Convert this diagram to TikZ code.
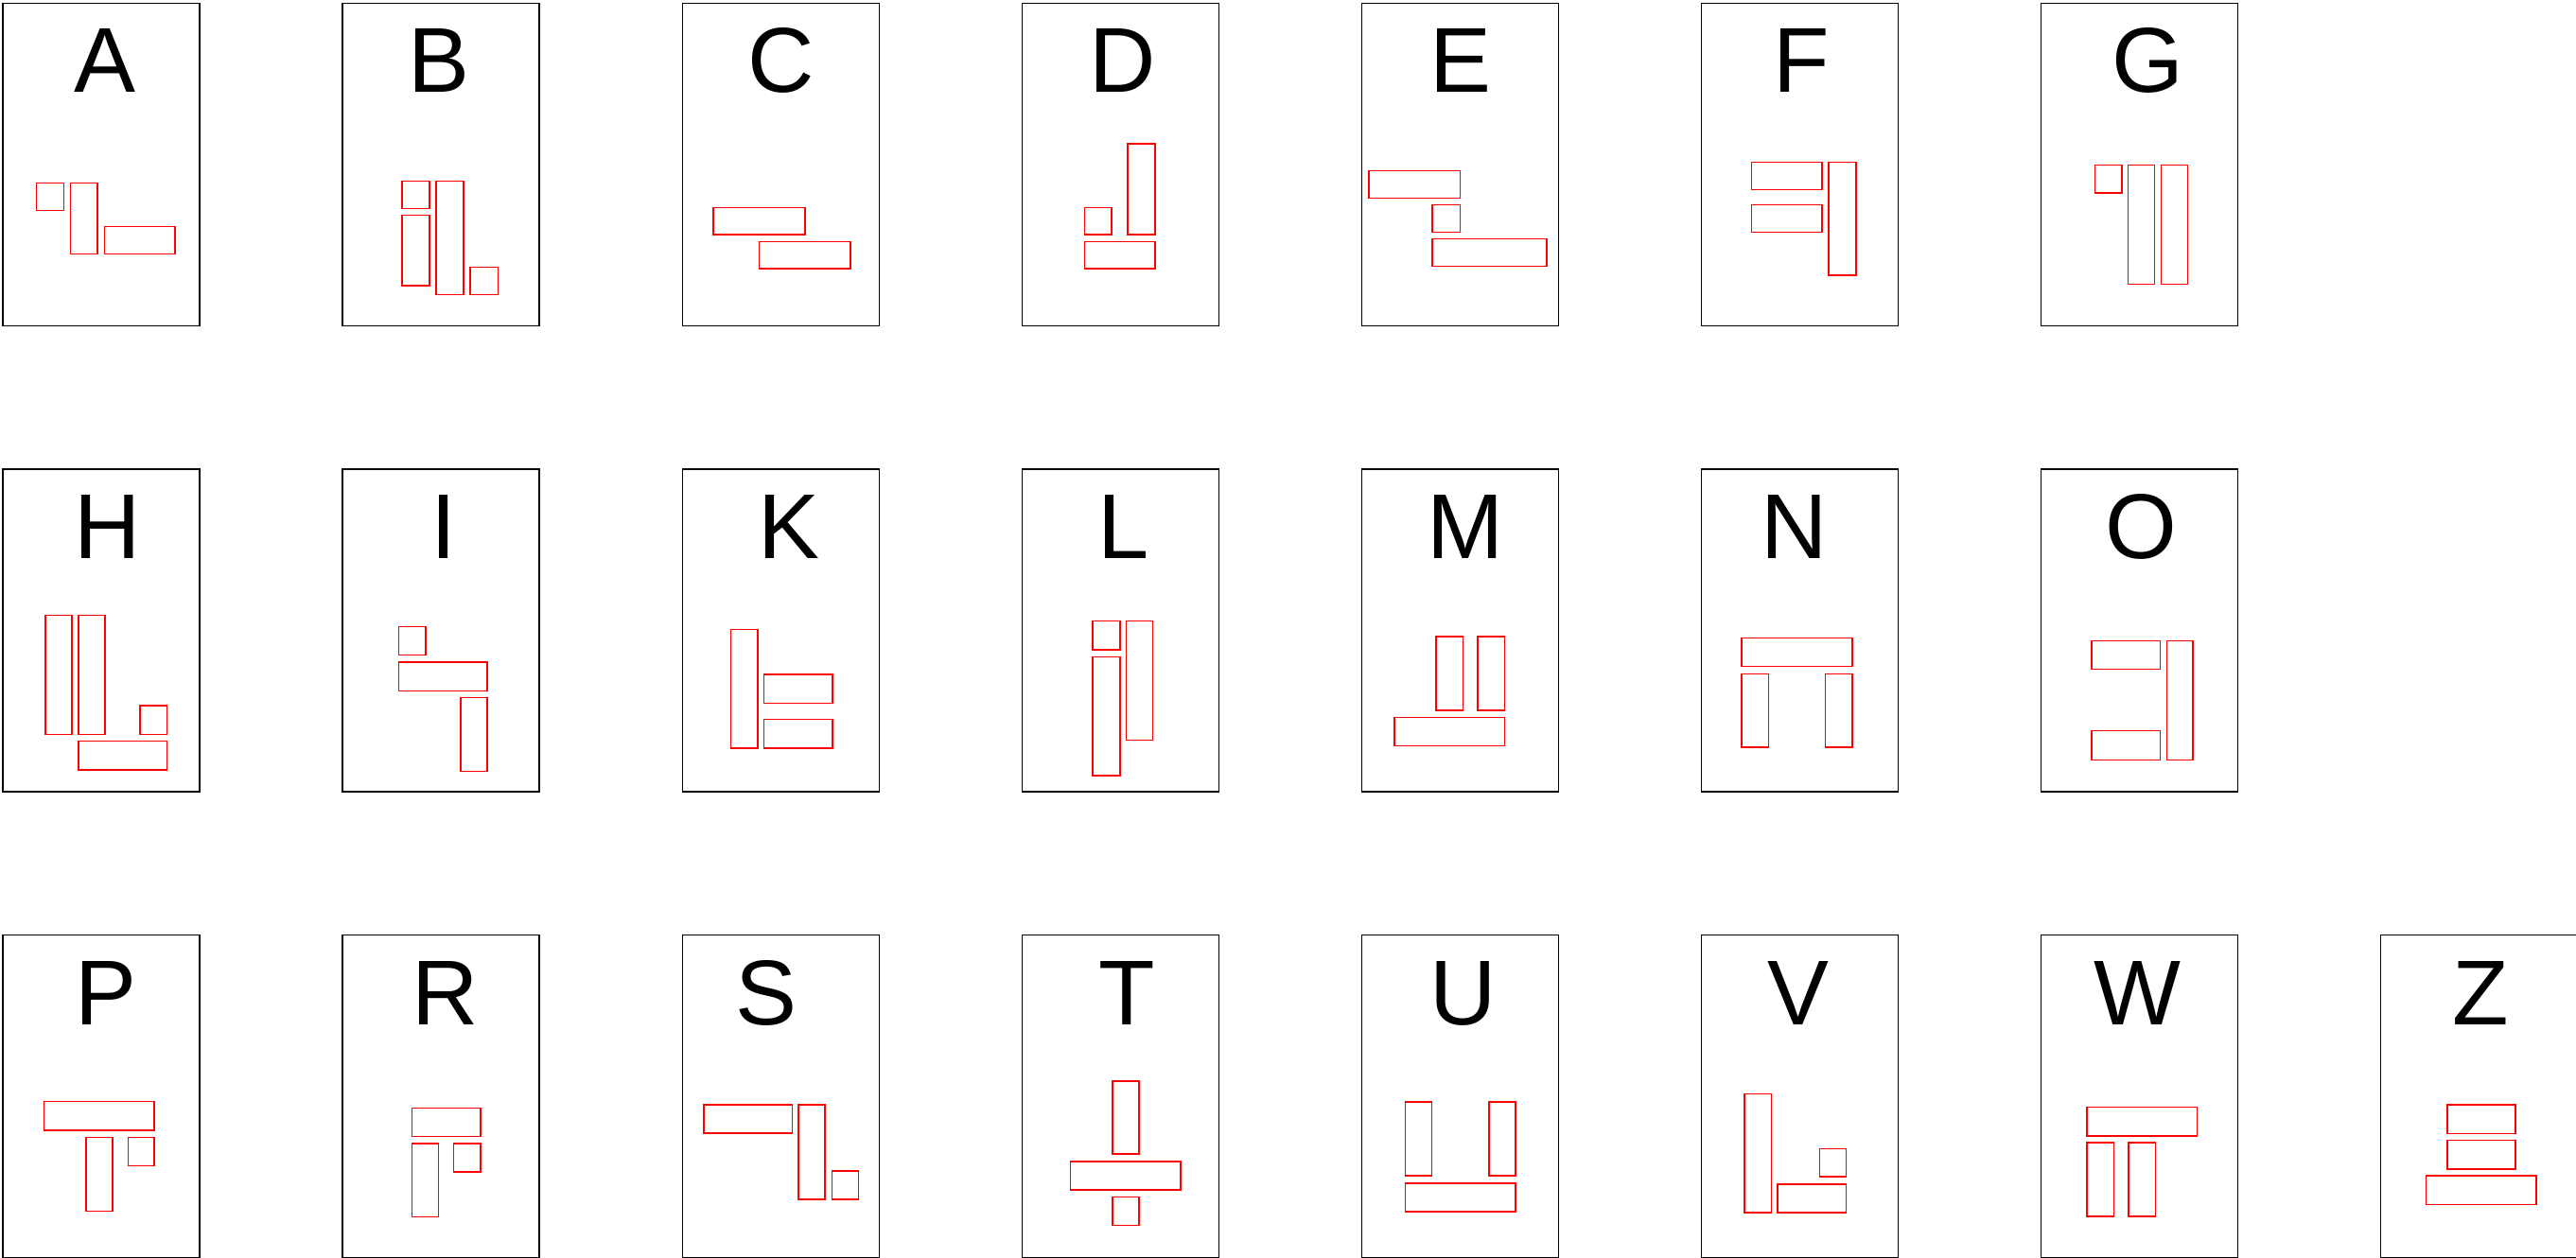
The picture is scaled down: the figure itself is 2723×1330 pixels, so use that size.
\documentclass[tikz,border=0pt]{standalone}
\usepackage{fontspec}
\setmainfont{Liberation Sans}
\tikzset{
  lcard/.style  ={draw=black, line width=0.4pt},
  lblock/.style ={draw=red, line width=0.45pt},
  lletter/.style={font=\fontsize{27.7}{30}\selectfont, anchor=base,
                  inner sep=0pt, text=black},
}
% #1,#2 top left corner, #3 letter centre, #4 letter, #5 blocks x0/y0/x1/y1
\newcommand{\lcardset}[5]{%
  \begin{scope}[shift={(#1,#2)}]
    \draw[lcard] (0,0) rectangle (208,341);
    \node[lletter] (card#4) at (#3,94.5) {#4};
    \foreach \xa/\ya/\xb/\yb in {#5}
      \draw[lblock] (\xa,\ya) rectangle (\xb,\yb);
  \end{scope}}

\begin{document}
\begin{tikzpicture}[x=0.01cm, y=-0.01cm]
  \useasboundingbox (0,0) rectangle (2723,1330);
  % first row
  \lcardset{3.0}{3.3}{107.6}{A}{35.5/190.3/64.4/219.3, 71.4/190.3/100.2/265, 107.6/236/182/265}
  \lcardset{362.1}{3.3}{102.1}{B}{62.9/188.3/92.1/217, 62.9/224.3/92.1/298.7, 98.8/188.3/128/308.3, 135/279.3/164.2/308.3}
  \lcardset{721.3}{3.3}{104.7}{C}{32.9/216/129.5/244.7, 81/252/177.6/280.7}
  \lcardset{1080.5}{3.3}{106.2}{D}{65.8/216/94.7/244.7, 111.3/148.7/140.2/244.7, 65.8/252/140.2/280.7}
  \lcardset{1439.4}{3.3}{104.7}{E}{7.4/177.3/104/206.3, 74.7/213.3/104/242.3, 74.7/249.3/195.3/278.3}
  \lcardset{1798.6}{3.3}{105.7}{F}{52.9/168/127.2/197, 52.9/213.3/127.2/242.3, 134.6/168/163.5/287.7}
  \lcardset{2157.3}{3.3}{113.3}{G}{57/171/85.5/200.5, 92/171/120.2/297, 127.2/171/155.3/297}
  % second row
  \lcardset{3.0}{496.0}{110.8}{H}{44.8/154.3/73.2/280.3, 79.9/154.3/108/280.3, 145/250/173.5/280.3, 79.9/287.7/173.5/318}
  \lcardset{362.1}{496.0}{106.9}{I}{59.6/166.3/88/196.7, 59.6/204/153.1/234.3, 125/241.7/153.1/319.3}
  \lcardset{721.3}{496.0}{112.4}{K}{51.4/169.3/79.5/295, 86.2/217/158.7/247.3, 86.2/264.7/158.7/295}
  \lcardset{1080.5}{496.0}{107.5}{L}{74.7/160.7/103.2/191, 74.7/198.3/103.2/324, 109.9/160.7/138/286.3}
  \lcardset{1439.4}{496.0}{109.3}{M}{78.4/177/106.9/255, 122.5/177/150.9/255, 34.4/262.3/150.9/292.3}
  \lcardset{1798.6}{496.0}{98.2}{N}{42.5/178.3/159.1/208.7, 42.5/216.3/70.7/294, 131/216.3/159.1/294}
  \lcardset{2157.3}{496.0}{106.5}{O}{53.7/181.7/126.1/211.7, 53.7/276.7/126.1/307.3, 133/181.7/160.8/307.3}
  % third row
  \lcardset{3.0}{988.7}{108.7}{P}{43.6/175.7/160.2/206, 88/213.7/116.2/291.7, 132.4/213.7/160.2/243.7}
  \lcardset{362.1}{988.7}{108.6}{R}{73.6/182.7/145.7/212.7, 73.6/220.3/101.4/297.7, 117.6/220.3/145.7/250.3}
  \lcardset{721.3}{988.7}{88.6}{S}{22.9/179/116.1/209, 122.8/179/150.9/279, 158/249/186/279}
  \lcardset{1080.5}{988.7}{110.8}{T}{95.4/154/123.2/231.3, 51/239/167.2/269, 95.4/276.7/123.2/306.7}
  \lcardset{1439.4}{988.7}{107.1}{U}{45.9/176.3/74/254.3, 134.3/176.3/162.4/254.3, 45.9/262/162.4/292}
  \lcardset{1798.6}{988.7}{102.8}{V}{45.5/167.7/74/293.3, 124.7/225.7/152.8/255.3, 80.6/263/152.8/293.3}
  \lcardset{2157.3}{988.7}{102.3}{W}{48.6/181.7/165.2/212, 48.6/219.3/77.1/297.3, 92.8/219.3/121/297.3}
  \lcardset{2516.6}{988.7}{106.0}{Z}{70.5/179/142.5/209.7, 70.5/216.7/142.5/247, 47.9/254.3/164.5/284.7}
\end{tikzpicture}
\end{document}
